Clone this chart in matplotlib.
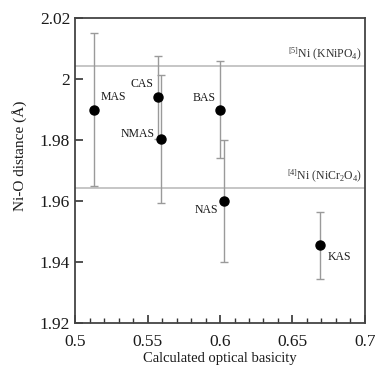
import matplotlib
matplotlib.use("Agg")
import matplotlib.pyplot as plt
from matplotlib.ticker import MultipleLocator, FixedLocator

plt.rcParams['font.family'] = ['Liberation Serif', 'DejaVu Serif']
plt.rcParams['mathtext.fontset'] = 'custom'
plt.rcParams['mathtext.rm'] = 'Liberation Serif'
plt.rcParams['mathtext.it'] = 'Liberation Serif:italic'

# Data
samples = ["MAS", "CAS", "NMAS", "BAS", "NAS", "KAS"]
basicity = [0.513, 0.557, 0.559, 0.600, 0.603, 0.669]
distance = [1.990, 1.994, 1.9805, 1.990, 1.960, 1.9455]
error = [0.025, 0.0137, 0.021, 0.016, 0.020, 0.011]
ref_names = ["$^{[5]}$Ni (KNiPO$_4$)", "$^{[4]}$Ni (NiCr$_2$O$_4$)"]
ref_values = [2.0044, 1.9642]
xticks = [0.5, 0.55, 0.6, 0.65, 0.7]
xticklabels = ["0.5", "0.55", "0.6", "0.65", "0.7"]
yticks = [1.92, 1.94, 1.96, 1.98, 2.00, 2.02]
yticklabels = ["1.92", "1.94", "1.96", "1.98", "2", "2.02"]

# label offsets in pixels (dx, dy) and horizontal alignment
label_offsets = {"MAS": (7, 13, 'left'), "CAS": (-4, 13, 'right'),
                 "NMAS": (-6, 5, 'right'), "BAS": (-4, 12, 'right'),
                 "NAS": (-6, -9, 'right'), "KAS": (8, -12, 'left')}

fig = plt.figure(figsize=(3.79, 3.70), dpi=100)
ax = fig.add_axes([0.198, 0.127, 0.765, 0.824])

for v in ref_values:
    ax.axhline(v, color='#bcbcbc', lw=1.2, zorder=1)

ax.errorbar(basicity, distance, yerr=error, fmt='none', ecolor='#9a9a9a',
            elinewidth=1.0, capsize=2.8, capthick=1.0, zorder=2)
ax.plot(basicity, distance, 'o', color='black', markersize=6.5, zorder=3)

for name, x, y in zip(samples, basicity, distance):
    dx, dy, ha = label_offsets[name]
    ax.annotate(name, (x, y), xytext=(dx, dy), textcoords='offset pixels',
                ha=ha, va='center', fontsize=8.5, color='#1a1a1a')

ax.text(0.698, ref_values[0] + 0.0013, ref_names[0], ha='right', va='bottom',
        fontsize=8.5, color='#333333')
ax.text(0.698, ref_values[1] + 0.0013, ref_names[1], ha='right', va='bottom',
        fontsize=8.5, color='#333333')

ax.set_xlim(0.5, 0.7)
ax.set_ylim(1.92, 2.02)
ax.xaxis.set_major_locator(FixedLocator(xticks))
ax.set_xticklabels(xticklabels)
ax.xaxis.set_minor_locator(MultipleLocator(0.01))
ax.yaxis.set_major_locator(FixedLocator(yticks))
ax.set_yticklabels(yticklabels)

ax.tick_params(axis='both', which='both', direction='in', top=False, right=False,
               colors='#333333', labelcolor='#1a1a1a')
ax.tick_params(axis='both', which='major', length=6, width=1.2, labelsize=12.5)
ax.tick_params(axis='x', which='minor', length=3.5, width=1.0)
ax.tick_params(axis='y', which='minor', left=False)
ax.tick_params(axis='x', which='major', pad=8)

for s in ax.spines.values():
    s.set_color('#444444')
    s.set_linewidth(1.3)

ax.set_xlabel("Calculated optical basicity", fontsize=10.5, color='#1a1a1a')
ax.set_ylabel("Ni-O distance (Å)", fontsize=11, color='#1a1a1a')
ax.xaxis.set_label_coords(0.5, -0.095)
ax.yaxis.set_label_coords(-0.165, 0.55)

fig.savefig("out.png", dpi=100)
